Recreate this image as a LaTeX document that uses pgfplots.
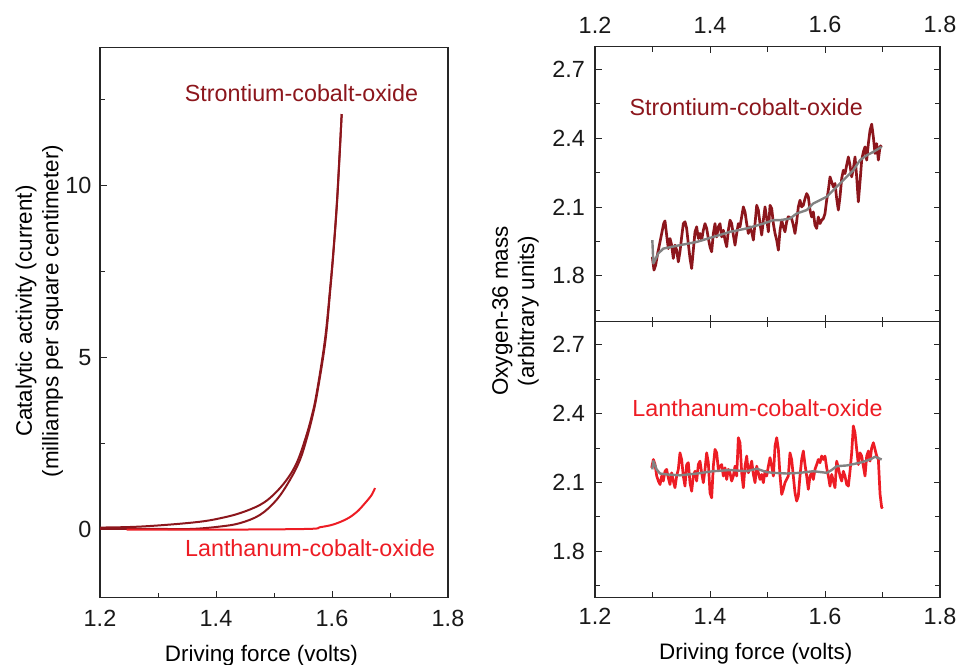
\documentclass[border=0pt]{standalone}
\usepackage{pgfplots}
\pgfplotsset{compat=1.18}
\usepackage{fontspec}
\setmainfont{Liberation Sans}
\definecolor{srco}{RGB}{140,22,28}
\definecolor{laco}{RGB}{237,28,36}
\definecolor{trend}{RGB}{130,130,130}

\pgfplotstableread{
x y
1.2997 1.883
1.3026 1.825
1.3055 1.847
1.3090 1.898
1.3125 1.941
1.3160 1.985
1.3194 2.028
1.3217 2.040
1.3246 1.978
1.3275 1.919
1.3304 1.963
1.3333 1.934
1.3362 1.876
1.3391 1.934
1.3420 1.912
1.3449 1.861
1.3478 1.905
1.3507 1.970
1.3536 2.028
1.3565 2.036
1.3594 2.007
1.3623 1.941
1.3652 1.876
1.3681 1.832
1.3710 1.912
1.3739 1.992
1.3768 2.014
1.3797 1.963
1.3826 1.985
1.3855 1.956
1.3884 1.999
1.3913 2.028
1.3942 2.007
1.3971 1.963
1.4000 1.927
1.4029 1.905
1.4058 1.985
1.4087 2.028
1.4116 1.970
1.4145 2.014
1.4174 2.028
1.4203 1.970
1.4232 1.999
1.4261 1.956
1.4290 1.927
1.4319 1.999
1.4348 2.043
1.4377 2.028
1.4406 1.978
1.4435 1.934
1.4464 1.985
1.4493 2.028
1.4522 2.014
1.4551 2.058
1.4580 2.101
1.4609 2.079
1.4638 2.028
1.4667 1.985
1.4696 2.014
1.4725 1.992
1.4754 1.956
1.4783 2.028
1.4812 2.108
1.4841 2.087
1.4870 2.028
1.4899 1.978
1.4928 2.043
1.4957 2.101
1.4986 2.050
1.5015 1.992
1.5044 2.108
1.5073 2.094
1.5102 2.028
1.5131 1.985
1.5160 1.956
1.5189 1.912
1.5218 1.999
1.5247 2.043
1.5275 2.014
1.5304 1.992
1.5333 2.036
1.5362 2.058
1.5420 2.050
1.5449 2.021
1.5478 1.985
1.5507 2.036
1.5536 2.101
1.5565 2.130
1.5594 2.101
1.5623 2.108
1.5652 2.137
1.5681 2.159
1.5710 2.145
1.5739 2.087
1.5768 2.057
1.5797 2.079
1.5826 2.021
1.5855 2.007
1.5884 2.057
1.5913 2.028
1.5942 2.043
1.5971 2.050
1.6000 2.072
1.6029 2.130
1.6058 2.174
1.6087 2.232
1.6116 2.210
1.6145 2.188
1.6174 2.203
1.6203 2.137
1.6232 2.087
1.6261 2.145
1.6290 2.225
1.6319 2.261
1.6348 2.246
1.6377 2.283
1.6406 2.319
1.6435 2.283
1.6464 2.232
1.6493 2.268
1.6522 2.319
1.6551 2.232
1.6580 2.123
1.6609 2.210
1.6638 2.305
1.6667 2.341
1.6696 2.363
1.6725 2.305
1.6754 2.377
1.6783 2.435
1.6812 2.462
1.6841 2.406
1.6870 2.334
1.6899 2.377
1.6928 2.305
1.6957 2.363
1.6986 2.370
}\srtop

\pgfplotstableread{
x y
1.2997 1.956
1.3015 1.854
1.3101 1.898
1.3188 1.919
1.3478 1.934
1.3768 1.948
1.4058 1.970
1.4348 1.992
1.4638 2.007
1.4927 2.028
1.5101 2.043
1.5217 2.043
1.5391 2.050
1.5507 2.072
1.5681 2.087
1.5797 2.116
1.6029 2.145
1.6145 2.174
1.6261 2.203
1.6377 2.232
1.6493 2.261
1.6609 2.305
1.6725 2.326
1.6841 2.341
1.6986 2.363
}\srtrend

\pgfplotstableread{
x y
1.2986 2.164
1.3015 2.200
1.3044 2.178
1.3073 2.128
1.3102 2.106
1.3131 2.091
1.3160 2.128
1.3188 2.106
1.3217 2.149
1.3246 2.157
1.3275 2.120
1.3304 2.091
1.3333 2.142
1.3362 2.106
1.3391 2.077
1.3420 2.128
1.3449 2.157
1.3478 2.229
1.3507 2.200
1.3536 2.128
1.3565 2.084
1.3594 2.178
1.3623 2.186
1.3652 2.099
1.3681 2.062
1.3710 2.128
1.3739 2.149
1.3768 2.106
1.3797 2.178
1.3826 2.193
1.3855 2.142
1.3884 2.099
1.3913 2.157
1.3942 2.229
1.3971 2.186
1.4000 2.055
1.4029 2.033
1.4058 2.171
1.4087 2.244
1.4116 2.229
1.4145 2.157
1.4174 2.171
1.4203 2.178
1.4232 2.128
1.4261 2.164
1.4290 2.113
1.4319 2.157
1.4348 2.142
1.4377 2.106
1.4406 2.128
1.4435 2.171
1.4464 2.128
1.4493 2.295
1.4522 2.273
1.4551 2.142
1.4580 2.077
1.4609 2.171
1.4638 2.215
1.4667 2.142
1.4696 2.164
1.4725 2.193
1.4754 2.135
1.4783 2.099
1.4812 2.171
1.4841 2.142
1.4870 2.113
1.4899 2.135
1.4928 2.099
1.4957 2.149
1.4986 2.128
1.5015 2.171
1.5044 2.208
1.5073 2.171
1.5102 2.128
1.5131 2.258
1.5160 2.295
1.5189 2.244
1.5218 2.128
1.5247 2.048
1.5275 2.070
1.5304 2.099
1.5362 2.128
1.5391 2.229
1.5420 2.200
1.5449 2.128
1.5478 2.055
1.5507 2.019
1.5536 2.041
1.5565 2.128
1.5594 2.200
1.5623 2.237
1.5652 2.178
1.5681 2.128
1.5710 2.070
1.5739 2.128
1.5768 2.142
1.5797 2.113
1.5826 2.157
1.5855 2.178
1.5884 2.200
1.5913 2.186
1.5942 2.215
1.5971 2.200
1.6000 2.215
1.6029 2.164
1.6058 2.128
1.6087 2.084
1.6116 2.135
1.6145 2.106
1.6174 2.077
1.6203 2.193
1.6232 2.164
1.6261 2.128
1.6290 2.106
1.6319 2.149
1.6348 2.128
1.6377 2.091
1.6406 2.084
1.6435 2.149
1.6464 2.229
1.6493 2.346
1.6522 2.316
1.6551 2.244
1.6580 2.178
1.6609 2.229
1.6638 2.215
1.6667 2.171
1.6696 2.128
1.6725 2.215
1.6754 2.237
1.6783 2.193
1.6812 2.251
1.6841 2.273
1.6870 2.244
1.6899 2.215
1.6928 2.200
1.6957 2.050
1.6986 1.990
1.7000 1.995
}\labot

\pgfplotstableread{
x y
1.2997 2.157
1.3015 2.193
1.3072 2.157
1.3130 2.139
1.3246 2.135
1.3478 2.131
1.3768 2.139
1.4058 2.149
1.4348 2.154
1.4638 2.149
1.4812 2.160
1.4986 2.145
1.5101 2.142
1.5333 2.139
1.5565 2.142
1.5797 2.149
1.6029 2.142
1.6116 2.154
1.6203 2.171
1.6377 2.174
1.6609 2.186
1.6783 2.200
1.6870 2.212
1.6986 2.200
}\latrend

\tikzset{
  labfont/.style={font=\fontsize{22.5}{26.5}\selectfont},
  annfont/.style={font=\fontsize{23.4}{27}\selectfont},
}
\pgfplotsset{
  myaxis/.style={
    scale only axis,
    axis line style={black!85, line width=1.1bp},
    tick style={black!85, line width=1bp},
    major tick length=6.5bp,
    minor tick length=5bp,
    tick label style={font=\fontsize{23.5}{27}\selectfont, inner sep=0pt, text=black!90},
    /pgf/number format/assume math mode=true,
    xmin=1.2, xmax=1.8,
    xtick={1.2,1.4,1.6,1.8},
    minor xtick={1.3,1.5,1.7},
  },
}

\begin{document}
\begin{tikzpicture}
\useasboundingbox (0,0) rectangle (959bp,665bp);

% left panel
\begin{axis}[myaxis,
  at={(100bp,67.3bp)}, anchor=south west,
  width=348bp, height=550bp,
  ymin=-2, ymax=14,
  ytick={0,5,10}, minor ytick={2.5,7.5,12.5},
  xtick pos=left, ytick pos=left,
  xticklabel shift=12.3bp, yticklabel shift=8.3bp,
  xlabel={Driving force (volts)},
  xlabel style={labfont, at={(axis description cs:0.464,0)}, anchor=base, yshift=-63.3bp},
  ylabel={Catalytic activity (current)\\(milliamps per square centimeter)},
  ylabel style={labfont, align=center, at={(axis description cs:-0.1744,0.521)}, anchor=center},
]
% strontium-cobalt-oxide, return branch (lower)
\addplot[srco, line width=2bp, smooth, tension=0.6] coordinates {
(1.2,0.0) (1.30,0.0) (1.358,0.0) (1.4069,0.07) (1.4414,0.17) (1.4759,0.41)
(1.5046,0.85) (1.5276,1.43) (1.5448,2.01) (1.5563,2.62) (1.5660,3.25)
(1.5745,3.95) (1.5885,5.45) (1.5970,6.95) (1.6025,8.05) (1.6083,9.40)
(1.6128,10.76) (1.6167,12.07)};
% strontium-cobalt-oxide, forward branch (upper)
\addplot[srco, line width=2bp, smooth, tension=0.6] coordinates {
(1.2,0.04) (1.2575,0.06) (1.315,0.12) (1.3724,0.21) (1.4069,0.31) (1.4414,0.46)
(1.4759,0.70) (1.4989,0.99) (1.5219,1.43) (1.5391,1.92) (1.5534,2.59)
(1.5649,3.27) (1.5736,3.96) (1.5879,5.51) (1.5966,6.97) (1.6022,8.04)
(1.6081,9.40) (1.6126,10.76) (1.6167,12.07)};
\addplot[laco, line width=2bp, smooth, tension=0.6] coordinates {
(1.246,-0.02) (1.40,-0.02) (1.5563,0.0) (1.5793,0.05) (1.6022,0.13)
(1.6253,0.29) (1.6425,0.49) (1.6569,0.75) (1.6684,0.99) (1.6741,1.19)};
\node[annfont, text=srco, anchor=base] at (axis cs:1.5474,12.43) {Strontium-cobalt-oxide};
\node[annfont, text=laco, anchor=base] at (axis cs:1.5624,-0.787) {Lanthanum-cobalt-oxide};
\end{axis}

% right top panel
\begin{axis}[myaxis,
  at={(595bp,343.3bp)}, anchor=south west,
  width=345bp, height=275bp,
  ymin=1.6, ymax=2.8,
  ytick={1.8,2.1,2.4,2.7}, minor ytick={1.65,1.95,2.25,2.55},
  xtick pos=both, ytick pos=both,
  xticklabel pos=right, yticklabel pos=left,
  xticklabel shift=13.4bp, yticklabel shift=10bp,
  ylabel={Oxygen-36 mass\\(arbitrary units)},
  ylabel style={labfont, align=center, at={(axis description cs:-0.2304,0.039)}, anchor=center},
]
\addplot[srco, line width=2.7bp, line join=round] table {\srtop};
\addplot[trend, line width=2.4bp, line join=round] table {\srtrend};
\node[annfont, text=srco, anchor=base] at (axis cs:1.463,2.5008) {Strontium-cobalt-oxide};
\end{axis}

% right bottom panel
\begin{axis}[myaxis,
  at={(595bp,67.7bp)}, anchor=south west,
  width=345bp, height=275.6bp,
  ymin=1.6, ymax=2.8,
  ytick={1.8,2.1,2.4,2.7}, minor ytick={1.65,1.95,2.25,2.55},
  xtick pos=both, ytick pos=both,
  xticklabel pos=left, yticklabel pos=left,
  xticklabel shift=11bp, yticklabel shift=10bp,
  xlabel={Driving force (volts)},
  xlabel style={labfont, at={(axis description cs:0.466,0)}, anchor=base, yshift=-62.1bp},
]
\addplot[laco, line width=2.7bp, line join=round] table {\labot};
\addplot[trend, line width=2.4bp, line join=round] table {\latrend};
\node[annfont, text=laco, anchor=base] at (axis cs:1.4826,2.389) {Lanthanum-cobalt-oxide};
\end{axis}
\end{tikzpicture}
\end{document}
